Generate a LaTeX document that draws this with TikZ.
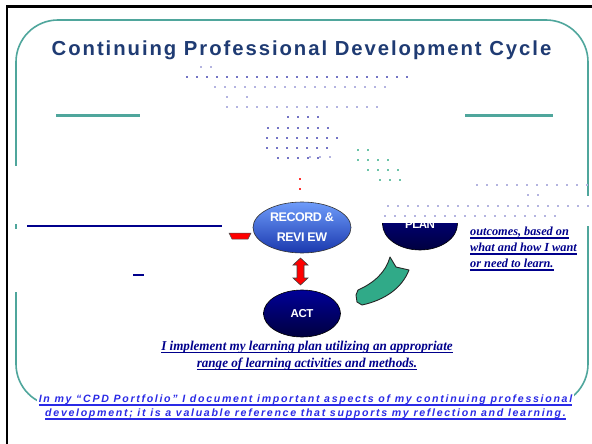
\documentclass[tikz,border=0pt]{standalone}
\usepackage{fontspec}
\usetikzlibrary{shapes.geometric}
\setmainfont{Liberation Serif}
\newfontfamily\titlefont[LetterSpace=9.6]{Liberation Sans}
\newfontfamily\botfont[LetterSpace=16]{Liberation Sans}
\newfontfamily\elfont[LetterSpace=-4]{Liberation Sans}
\newfontfamily\condserif[FakeStretch=0.97]{Liberation Serif}
\definecolor{titleblue}{HTML}{1F3B73}
\definecolor{frameteal}{HTML}{4FA69C}
\definecolor{dotpurple}{HTML}{7474C4}
\definecolor{dotlight}{HTML}{B4B4E0}
\definecolor{dotteal}{HTML}{6CC4A8}
\definecolor{navytext}{HTML}{00008C}
\definecolor{bottomblue}{HTML}{2A2AE6}
\definecolor{arrowteal}{HTML}{30AA88}
\definecolor{rectop}{HTML}{6E9CFA}
\definecolor{recmid}{HTML}{3E6CE6}
\definecolor{recbot}{HTML}{1A38AE}
\newsavebox{\ulbox}
\newcommand{\myul}[1]{\sbox{\ulbox}{#1}\rlap{\rule[-2.8pt]{\wd\ulbox}{1.4pt}}\usebox{\ulbox}}
\tikzset{
  navyell/.style={ellipse, draw=black, line width=0.6pt, top color=navytext!90!blue, bottom color=navytext!45!black, text=white, font=\elfont\bfseries\fontsize{11.5}{13}\selectfont, align=center, inner sep=0pt},
  dotp/.style={fill=dotpurple},
  dotl/.style={fill=dotlight},
  dott/.style={fill=dotteal},
  bodytext/.style={text=navytext, font=\condserif\bfseries\itshape\fontsize{13.5}{17}\selectfont, align=center, inner sep=1pt}
}
\newcommand{\dotrow}[5]{% style, y, x0, step, x1
  \foreach \xx in {#3,#4,...,#5} {\path[#1] (\xx-1,#2-1) rectangle (\xx+1,#2+1);}}
\begin{document}
\begin{tikzpicture}[x=1pt,y=-1pt]
\useasboundingbox (0,0) rectangle (592,444);
\fill[white] (0,0) rectangle (592,444);
% outer black border
\draw[line width=2.6pt] (7,444) -- (7,6.5) -- (592,6.5);
% teal rounded frame
\draw[frameteal, line width=1.6pt, rounded corners=42pt] (16,20) rectangle (588,406);
\fill[white] (10,166) rectangle (22,224);
\fill[white] (10,229) rectangle (22,292);
\fill[white] (582,196) rectangle (594,226);
% title
\node[text=titleblue, font=\titlefont\bfseries\fontsize{20.3}{22}\selectfont] (title) at (301.5,50) {Continuing Professional Development Cycle};
% teal bars
\draw[frameteal, line width=3pt] (56,115.5) -- (140,115.5);
\draw[frameteal, line width=3pt] (465,115.5) -- (553,115.5);
% dot patterns
\dotrow{dotl}{67}{201}{211}{201}
\dotrow{dotp}{77}{187}{197}{412}
\dotrow{dotl}{87}{215}{225}{385}
\dotrow{dotl}{97}{227}{247}{247}
\dotrow{dotl}{107}{227}{237}{380}
\dotrow{dotp}{117}{288}{298}{318}
\dotrow{dotp}{128}{268}{278}{328}
\dotrow{dotp}{138}{267}{277}{338}
\dotrow{dotp}{148}{267}{277}{328}
\dotrow{dotp}{158}{278}{288}{318}
\dotrow{dott}{150}{358}{368}{368}
\dotrow{dott}{160}{358}{368}{388}
\dotrow{dott}{170}{368}{378}{400}
\dotrow{dott}{180}{380}{390}{400}
\path[fill=red!80] (299,178) rectangle (301,180);
\path[fill=red!80] (299,188) rectangle (301,190);
% PLAN ellipse (top hidden)
\node[navyell, minimum width=75pt, minimum height=52pt] (plan) at (420,224) {\raisebox{-8pt}{PLAN}};
\fill[white] (378,190) rectangle (462,223);
\dotrow{dotl}{157}{310}{320}{330}
\dotrow{dotl}{185}{477}{487}{590}
\dotrow{dotl}{195}{528}{538}{528}
\dotrow{dotl}{206}{388}{398}{590}
\dotrow{dotl}{216}{385}{395}{560}
% left blue line
\coordinate (lstart) at (27,226);
\coordinate (lend) at (222,226);
\draw[navytext, line width=1.3pt] (lstart) -- (lend);
\coordinate (mstart) at (133,275);
\coordinate (mend) at (144,275);
\draw[navytext, line width=1.3pt] (mstart) -- (mend);
% red trapezoid
\filldraw[fill=red, draw=black!70, line width=0.5pt] (229,233) -- (251,233) -- (248,239) -- (232,239) -- cycle;
% RECORD & REVIEW
\node[ellipse, draw=black!80, line width=0.6pt, top color=rectop, middle color=recmid, bottom color=recbot, minimum width=98pt, minimum height=51pt, text=white, font=\elfont\bfseries\fontsize{12.5}{20}\selectfont, align=center, inner sep=0pt] (rec) at (302,227.5) {RECORD \&\\REVI EW};
% ACT
\node[navyell, minimum width=77pt, minimum height=47pt] (act) at (302,313.5) {ACT};
% red double arrow
\filldraw[fill=red, draw=black!75, line width=0.6pt] (300.5,258) -- (308,265) -- (304,265) -- (304,278) -- (308,278) -- (300.5,285) -- (293,278) -- (297,278) -- (297,265) -- (293,265) -- cycle;
% teal curved arrow
\filldraw[fill=arrowteal, draw=black!85, line width=0.9pt, line join=round]
  (358,290) -- (356,295) -- (357,302) -- (362,305)
  .. controls (385,300) and (402,288) .. (409,270)
  -- (396,267) -- (390,257)
  .. controls (386,272) and (374,283) .. (358,290) -- cycle;
% right text
\node[anchor=west, text=navytext, font=\bfseries\itshape\fontsize{12.3}{16}\selectfont, align=left, inner sep=0pt] (outc) at (470,249) {\myul{outcomes, based on}\\\myul{what and how I want}\\\myul{or need to learn.}};
% middle text
\node[bodytext] (impl) at (307,355.5) {\myul{I implement my learning plan utilizing an appropriate}\\\myul{range of learning activities and methods.}};
% bottom text
\node[fill=white, text=bottomblue, font=\botfont\bfseries\itshape\fontsize{10.6}{14}\selectfont, align=center, inner xsep=2pt, inner ysep=6pt] (port) at (305.5,407.5) {\myul{In my “CPD Portfolio” I document important aspects of my continuing professional}\\\myul{development; it is a valuable reference that supports my reflection and learning.}};
\end{tikzpicture}
\end{document}
